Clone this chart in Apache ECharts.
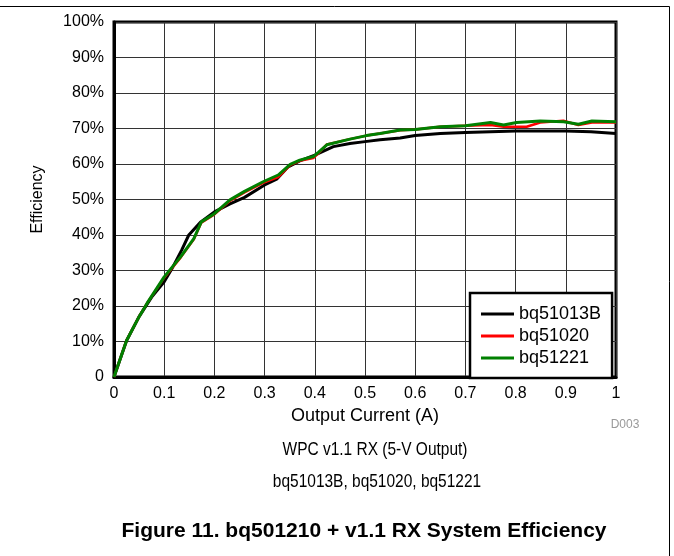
<!DOCTYPE html>
<html>
<head>
<meta charset="utf-8">
<script src="https://cdn.jsdelivr.net/npm/echarts@6/dist/echarts.min.js"></script>
<style>
html,body{margin:0;padding:0;background:#fff;}
#chart{width:674px;height:556px;}
</style>
</head>
<body>
<div id="chart"></div>
<script>
// Output current (A) and efficiency (%)
var seriesNames = ['bq51013B', 'bq51020', 'bq51221'];

var currentBq51013B = [0, 0.025, 0.05, 0.075, 0.1, 0.115, 0.135, 0.149, 0.173, 0.2, 0.23, 0.26, 0.3, 0.324, 0.347, 0.37, 0.4, 0.437, 0.47, 0.5, 0.53, 0.57, 0.6, 0.65, 0.7, 0.75, 0.8, 0.85, 0.9, 0.95, 1.0];
var effBq51013B = [0, 10.2, 17, 22.5, 26.8, 30.4, 35.8, 40, 43.7, 46.5, 48.7, 50.6, 54.1, 55.7, 59.2, 60.9, 62.5, 64.9, 65.8, 66.3, 66.8, 67.3, 68.0, 68.6, 68.9, 69.1, 69.3, 69.3, 69.3, 69.1, 68.6];

var currentBq51020 = [0, 0.025, 0.05, 0.066, 0.1, 0.133, 0.159, 0.174, 0.2, 0.231, 0.26, 0.297, 0.327, 0.351, 0.37, 0.397, 0.407, 0.424, 0.47, 0.503, 0.53, 0.57, 0.6, 0.65, 0.7, 0.75, 0.776, 0.822, 0.849, 0.895, 0.925, 0.952, 1.0];
var effBq51020 = [0, 10.3, 17, 20.8, 28.0, 33.7, 38.8, 43.5, 45.8, 49.6, 52.0, 54.7, 56.3, 59.7, 60.9, 61.7, 63.0, 65.5, 67.0, 68.0, 68.6, 69.5, 69.7, 70.5, 70.8, 71.0, 70.5, 70.5, 71.7, 72.2, 71.0, 71.7, 71.7];

var currentBq51221 = [0, 0.025, 0.05, 0.066, 0.1, 0.133, 0.159, 0.174, 0.2, 0.231, 0.26, 0.297, 0.327, 0.351, 0.37, 0.397, 0.407, 0.424, 0.47, 0.503, 0.53, 0.57, 0.6, 0.65, 0.7, 0.75, 0.776, 0.802, 0.849, 0.896, 0.925, 0.952, 1.0];
var effBq51221 = [0, 10.3, 17, 20.8, 28.2, 33.9, 39, 43.7, 46, 49.9, 52.3, 55.0, 56.9, 59.9, 61.1, 62.1, 63.3, 65.4, 67.0, 68.0, 68.6, 69.6, 69.7, 70.5, 70.8, 71.7, 71.0, 71.7, 72.1, 71.9, 71.2, 72.1, 71.9];

var captionLine1 = 'WPC v1.1 RX (5-V Output)';
var captionLine2 = 'bq51013B, bq51020, bq51221';
var figureTitle = 'Figure 11. bq501210 + v1.1 RX System Efficiency';

function zip(xs, ys) { return xs.map(function (x, i) { return [x, ys[i]]; }); }

var FONT = '"Liberation Sans", Arial, sans-serif';
var chart = echarts.init(document.getElementById('chart'), null, {renderer: 'canvas'});

chart.setOption({
  animation: false,
  backgroundColor: '#fff',
  textStyle: {fontFamily: FONT},
  grid: {left: 114, top: 22, width: 502, height: 355, show: true, borderColor: '#000', borderWidth: 3, backgroundColor: 'transparent'},
  xAxis: {
    type: 'value', min: 0, max: 1, interval: 0.1,
    name: 'Output Current (A)', nameLocation: 'middle', nameGap: 25,
    nameTextStyle: {fontSize: 18, color: '#000', fontFamily: FONT},
    axisLine: {show: true, lineStyle: {color: '#000', width: 3}},
    axisTick: {show: false},
    axisLabel: {fontSize: 16, color: '#000', margin: 9, fontFamily: FONT,
      formatter: function (v) { return String(+v.toFixed(1)); }},
    splitLine: {show: true, lineStyle: {color: '#333', width: 1}}
  },
  yAxis: {
    type: 'value', min: 0, max: 100, interval: 10,
    name: 'Efficiency', nameLocation: 'middle', nameGap: 68, nameRotate: 90,
    nameTextStyle: {fontSize: 16, color: '#000', fontFamily: FONT},
    axisLine: {show: true, lineStyle: {color: '#000', width: 3}},
    axisTick: {show: false},
    axisLabel: {fontSize: 16, color: '#000', margin: 10, fontFamily: FONT,
      formatter: function (v) { return v === 0 ? '0' : v + '%'; }},
    splitLine: {show: true, lineStyle: {color: '#333', width: 1}}
  },
  legend: {
    show: true, orient: 'vertical', left: 470, top: 293,
    padding: [12, 11, 11, 11],
    backgroundColor: '#fff', borderColor: '#000', borderWidth: 2.5, borderRadius: 0,
    itemWidth: 33, itemHeight: 3, itemGap: 4, itemTextGap: 15,
    icon: 'rect',
    textStyle: {fontSize: 18, color: '#000', fontFamily: FONT},
    data: seriesNames
  },
  series: [
    {name: seriesNames[0], type: 'line', data: zip(currentBq51013B, effBq51013B), showSymbol: false, symbol: 'none', lineStyle: {color: '#000', width: 3}, itemStyle: {color: '#000'}},
    {name: seriesNames[1], type: 'line', data: zip(currentBq51020, effBq51020), showSymbol: false, symbol: 'none', lineStyle: {color: '#ff0000', width: 2.5}, itemStyle: {color: '#ff0000'}},
    {name: seriesNames[2], type: 'line', data: zip(currentBq51221, effBq51221), showSymbol: false, symbol: 'none', lineStyle: {color: '#008000', width: 3}, itemStyle: {color: '#008000'}}
  ],
  graphic: [
    {type: 'line', shape: {x1: 0, y1: 6.5, x2: 669.5, y2: 6.5}, style: {stroke: '#000', lineWidth: 1}},
    {type: 'line', shape: {x1: 669.5, y1: 6.5, x2: 669.5, y2: 556}, style: {stroke: '#000', lineWidth: 1}},
    {type: 'text', x: 625, y: 425, style: {text: 'D003', fontSize: 12, fill: '#999', fontFamily: FONT, textAlign: 'center', textVerticalAlign: 'middle'}},
    {type: 'text', x: 375, y: 450, scaleX: 0.86, style: {text: captionLine1, fontSize: 18, fill: '#000', fontFamily: FONT, textAlign: 'center', textVerticalAlign: 'middle'}},
    {type: 'text', x: 377, y: 482, scaleX: 0.86, style: {text: captionLine2, fontSize: 18, fill: '#000', fontFamily: FONT, textAlign: 'center', textVerticalAlign: 'middle'}},
    {type: 'text', x: 364, y: 531, style: {text: figureTitle, fontSize: 21, fontWeight: 'bold', fill: '#000', fontFamily: FONT, textAlign: 'center', textVerticalAlign: 'middle'}}
  ]
});
</script>
</body>
</html>
